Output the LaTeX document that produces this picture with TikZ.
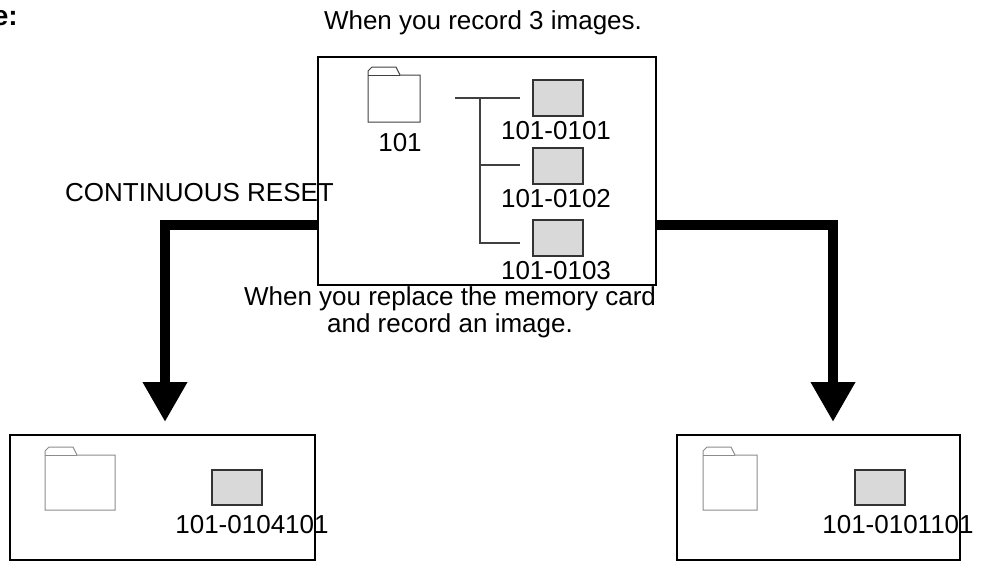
\documentclass[tikz,border=0pt]{standalone}
\usepackage{fontspec}
\setmainfont{Liberation Sans}
\usetikzlibrary{arrows.meta}
\tikzset{
    card/.style={draw=black, line width=2.5pt},
    pic img/.style={draw=black!80, fill=black!15, line width=1.5pt},
    folder/.style={draw=black!60, fill=white, line width=1pt},
    branch/.style={draw=black!75, line width=1.2pt},
    flow/.style={line width=10pt, -{Triangle[length=40pt, width=42pt]}},
    lbl/.style={font=\fontsize{26}{30}\selectfont, inner sep=0pt},
}
\newcommand{\folderpic}[5]{% x0 y0 x1 y1 colour
    \draw[folder, draw=#5] (#1,#2+8) -- (#1,#4) -- (#3,#4) -- (#3,#2+8) -- (#1+32,#2+8)
        -- (#1+28,#2) -- (#1+4,#2) -- (#1,#2+4) -- cycle;
    \draw[folder, draw=#5] (#1,#2+8) -- (#1+32,#2+8);}
\begin{document}
\begin{tikzpicture}[x=1pt, y=-1pt]
    \useasboundingbox (0,0) rectangle (982,570);

    % texts
    \node[lbl, font=\fontsize{28}{30}\bfseries, anchor=east] (mark) at (18,18) {e:};
    \node[lbl] (title) at (483,23) {When you record 3 images.};
    \node[lbl, anchor=west] (reset) at (65,193) {CONTINUOUS RESET};
    \node[lbl, align=center, font=\fontsize{26}{27}\selectfont] (note) at (450,312)
        {When you replace the memory card\\and record an image.};

    % cards
    \draw[card] (318,57) rectangle (656,285);
    \coordinate (cardL) at (318,225);
    \coordinate (cardR) at (656,225);
    \draw[card, line width=2pt] (10,435) rectangle (315,560);
    \draw[card, line width=2pt] (677,435) rectangle (960,560);

    % top card contents
    \folderpic{368}{67}{420}{122}{black!75}
    \node[lbl] (f101) at (400,143) {101};
    \draw[branch] (455,98) -- (520,98);
    \draw[branch] (480,98) -- (480,243) -- (520,243);
    \draw[branch] (480,165) -- (520,165);
    \foreach \y/\n in {80/1,148/2,220/3} {
        \draw[pic img] (533,\y) rectangle (583,\y+36);
        \node[lbl] (img\n) at (556,\y+51) {101-010\n};}

    % bottom cards contents
    \folderpic{45}{447}{115}{510}{black!45}
    \draw[pic img] (212,470) rectangle (262,505);
    \node[lbl] (imgL) at (252,525) {101-0104101};
    \folderpic{703}{447}{757}{510}{black!45}
    \draw[pic img] (855,470) rectangle (905,505);
    \node[lbl] (imgR) at (898,525) {101-0101101};

    % flow arrows
    \coordinate (tipL) at (165,422);
    \coordinate (tipR) at (833,422);
    \draw[flow] (cardL) -| (tipL);
    \draw[flow] (cardR) -| (tipR);
\end{tikzpicture}
\end{document}
